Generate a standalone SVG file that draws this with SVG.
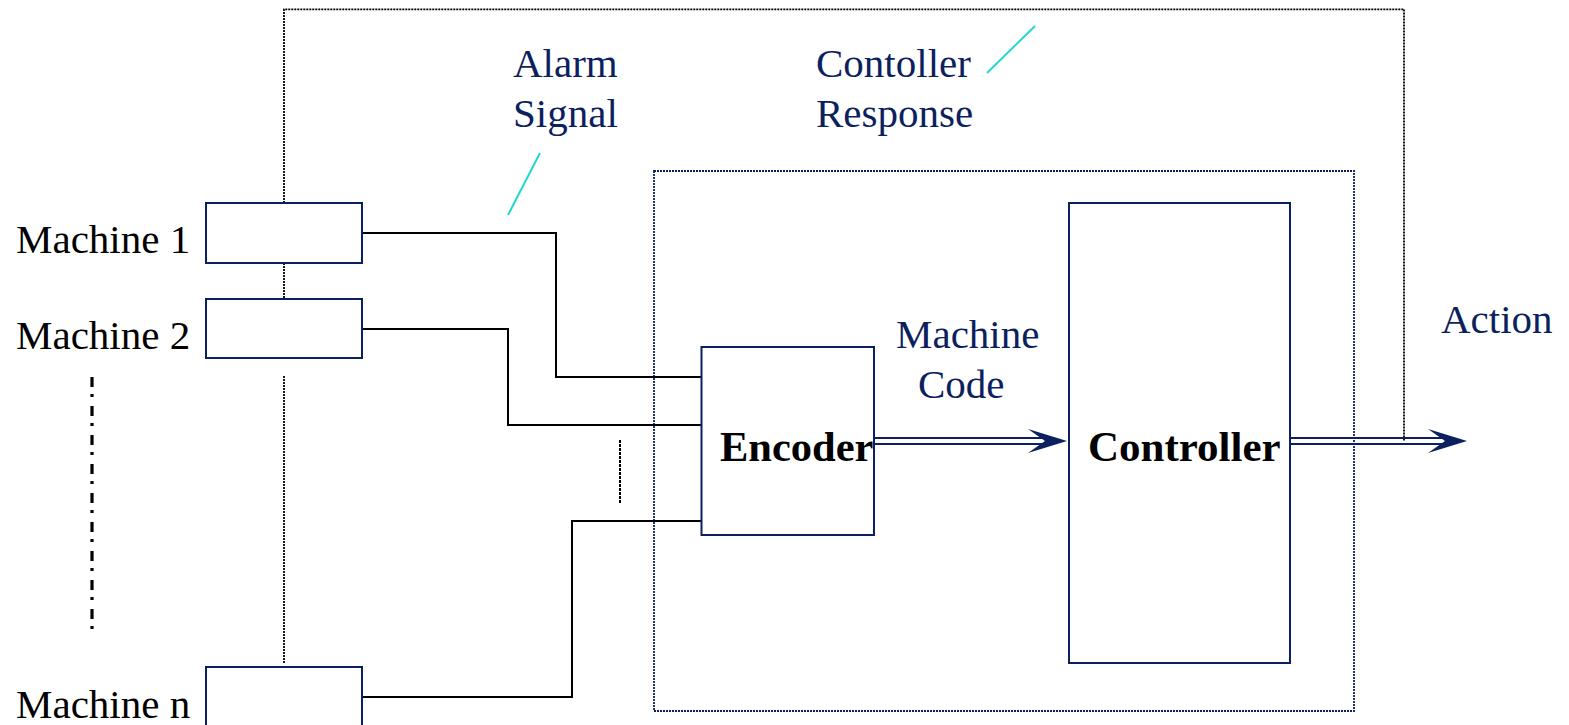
<svg xmlns="http://www.w3.org/2000/svg" width="1569" height="725" viewBox="0 0 1569 725">
<style>
.t{font-family:"Liberation Serif","Times New Roman",serif;font-size:41px}
.navy{fill:#0c1f5e}
.blk{fill:#000}
.b{font-weight:bold;font-size:42.5px;fill:#000}
.b2{font-weight:bold;font-size:43px;fill:#000}
.box{fill:#fff;stroke:#0c1f5e;stroke-width:2}
.wire{fill:none;stroke:#000;stroke-width:2}
.dotk{fill:none;stroke:#000;stroke-width:1.8;stroke-dasharray:2 1}
.dotn{fill:none;stroke:#0c1f5e;stroke-width:1.8;stroke-dasharray:2 1}
.cyan{stroke:#20d8d0;stroke-width:2}
.dbl{fill:none;stroke:#0c1f5e;stroke-width:2}
.head{fill:#0c1f5e}
</style>
<defs>
<path id="ah" d="M0,0 L-39,-12 L-22,0 L-39,12 Z"/>
</defs>
<g id="connectors">
<path class="dotk" d="M284,203 V9.3 H1404 V441"/>
<path class="dotk" d="M284,263 V298"/>
<path class="dotk" d="M284,376 V663"/>
<path class="dotn" d="M654,171 H1354 V711 H654 Z"/>
<line x1="92" y1="377" x2="92" y2="633" stroke="#000" stroke-width="3.2" stroke-dasharray="10 7 3 9"/>
<path class="wire" d="M362,233 H556 V377 H701"/>
<path class="wire" d="M362,329 H508 V425 H701"/>
<path class="wire" d="M362,697 H572 V521 H701"/>
<line x1="620" y1="440" x2="620" y2="503" stroke="#000" stroke-width="2" stroke-dasharray="3 1"/>
<line class="cyan" x1="540" y1="153" x2="508" y2="215"/>
<line class="cyan" x1="1035" y1="26" x2="987" y2="73"/>
<path class="dbl" d="M874,438 H1050 M874,444 H1050"/>
<use href="#ah" class="head" transform="translate(1067,441)"/>
<path class="dbl" d="M1291,438 H1450 M1291,444 H1450"/>
<use href="#ah" class="head" transform="translate(1467,441)"/>
</g>
<g id="machine1">
<rect class="box" x="206" y="203" width="156" height="60"/>
<text class="t blk" x="16" y="253">Machine 1</text>
</g>
<g id="machine2">
<rect class="box" x="206" y="299" width="156" height="59"/>
<text class="t blk" x="16" y="349">Machine 2</text>
</g>
<g id="machinen">
<rect class="box" x="206" y="667" width="156" height="70"/>
<text class="t blk" x="16" y="718">Machine n</text>
</g>
<g id="encoder">
<rect class="box" x="701.5" y="347" width="172.5" height="188"/>
<text class="t b" x="720" y="461">Encoder</text>
</g>
<g id="controller">
<rect class="box" x="1069" y="203" width="221" height="460"/>
<text class="t b2" x="1088" y="461">Controller</text>
</g>
<g id="labels">
<text class="t navy" x="513" y="77">Alarm</text>
<text class="t navy" x="513" y="127">Signal</text>
<text class="t navy" x="816" y="77">Contoller</text>
<text class="t navy" x="816" y="127">Response</text>
<text class="t navy" x="896" y="348">Machine</text>
<text class="t navy" x="918" y="398">Code</text>
<text class="t navy" x="1441" y="333">Action</text>
</g>
</svg>
